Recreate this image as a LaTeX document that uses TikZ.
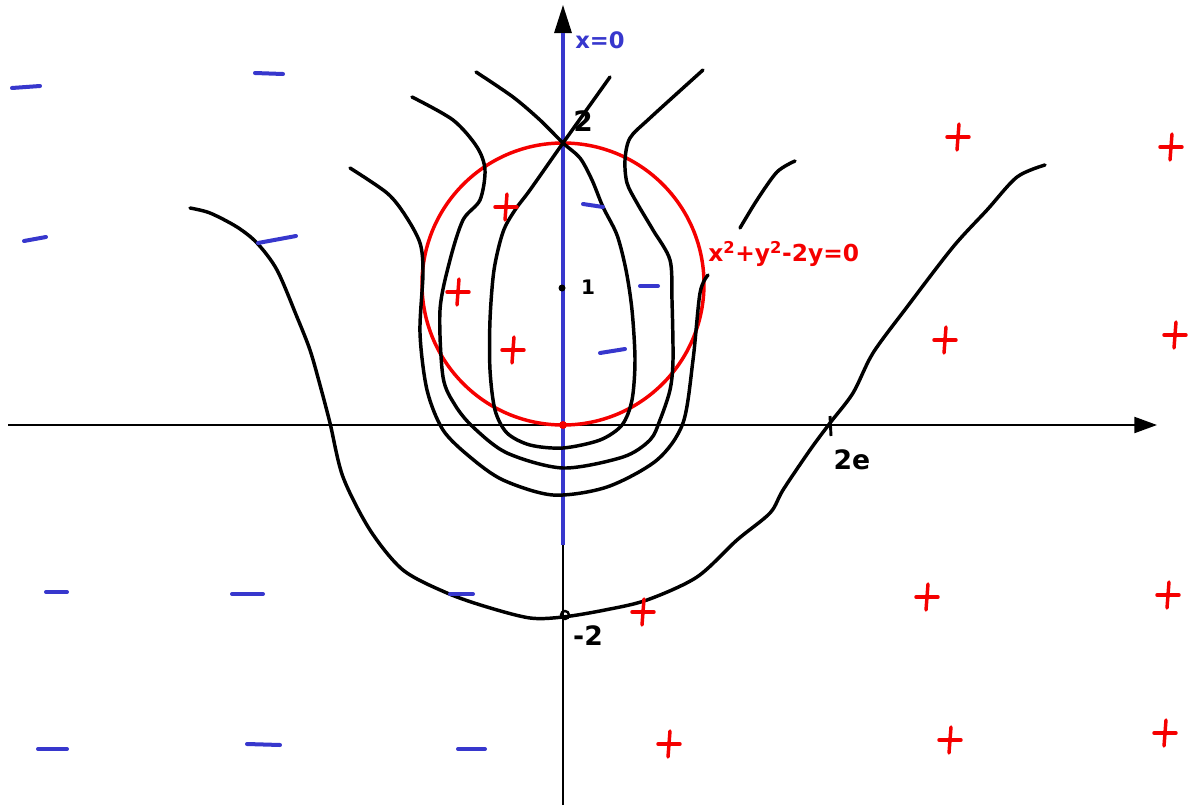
\documentclass[tikz,border=0pt]{standalone}
\usepackage{fontspec}
\setmainfont{DejaVu Sans}
\usetikzlibrary{arrows.meta}
\definecolor{penblue}{RGB}{55,55,205}
\definecolor{penred}{RGB}{245,0,0}
\begin{document}
\begin{tikzpicture}[x=0.75pt,y=-0.75pt,
  curve/.style={line width=2.6pt,line cap=round,line join=round},
  axisline/.style={line width=1.6pt},
  penminus/.style={penblue,line width=3pt,line cap=round},
  penplus/.style={penred,line width=2.6pt,line cap=round},
  lbl/.style={inner sep=0pt,font=\fontsize{17}{17}\selectfont\bfseries},
  pluspic/.pic={\draw[penplus] (-11,0) -- (11,0); \draw[penplus] (1,-13) -- (-1,13);}]
\useasboundingbox (0,0) rectangle (1190,807);
% axes
\coordinate (xs) at (8,425);
\coordinate (xe) at (1157,425);
\coordinate (ys) at (563,805);
\coordinate (ye) at (563,5);
\coordinate (bs) at (563,545);
\coordinate (be) at (563,33);
\draw[axisline,-{Triangle[length=17pt,width=12pt]}] (xs) -- (xe);
\draw[axisline,-{Triangle[length=21pt,width=13pt]}] (ys) -- (ye);
\draw[penblue,line width=2.4pt] (bs) -- (be);
% circle
\coordinate (cc) at (563,284);
\draw[penred,line width=2.6pt] (cc) circle[radius=141];
% curves
\draw[curve] plot[smooth,tension=0.5] coordinates {(476,72) (513,97) (540,120) (563,143) (580,158) (592,180) (603,207) (617,235) (626,270) (632,310) (635,360) (632,400) (622,425) (600,440) (563,448) (530,445) (507,433) (495,410) (490,370) (490,320) (494,270) (503,232) (515,210) (530,190) (563,143) (610,77)};
\draw[curve] plot[smooth,tension=0.5] coordinates {(412,97) (453,120) (477,147) (485,170) (480,200) (463,220) (450,260) (440,310) (443,377) (455,405) (473,427) (507,453) (563,468) (623,457) (650,440) (660,420) (670,390) (673,360) (672,300) (670,260) (653,230) (637,203) (627,183) (625,160) (630,138) (650,118) (703,70)};
\draw[curve] plot[smooth,tension=0.5] coordinates {(350,168) (387,193) (405,215) (420,243) (423,273) (420,333) (427,390) (443,430) (470,457) (503,480) (553,495) (607,487) (657,460) (683,423) (693,360) (700,293) (708,275)};
\draw[curve] plot[smooth,tension=0.5] coordinates {(740,228) (757,200) (777,172) (795,161)};
\draw[curve] plot[smooth,tension=0.5] coordinates {(190,208) (210,213) (237,227) (257,243) (277,270) (297,317) (310,350) (320,385) (330,423) (343,477) (370,530) (403,570) (447,593) (487,607) (530,618) (563,617) (605,610) (647,600) (697,577) (737,540) (770,513) (783,490) (810,450) (830,423) (853,393) (873,353) (907,307) (953,247) (987,210) (1017,177) (1045,165)};
% marks on axes
\fill (562,288) circle[radius=3.5];
\draw[line width=1.8pt] (565,615) circle[radius=4];
\fill[penred] (563,425) circle[radius=4];
\draw[line width=2.2pt] (830,416) -- (831,436);
% labels
\node[lbl,penblue] (lx0) at (600,40) {x=0};
\node[lbl,font=\fontsize{21}{21}\selectfont\bfseries] (l2) at (583,121) {2};
\node[lbl,font=\fontsize{15}{15}\selectfont\bfseries] (l1) at (588,287) {1};
\node[lbl,font=\fontsize{20}{20}\selectfont\bfseries] (l2e) at (852,460) {2e};
\node[lbl,font=\fontsize{20}{20}\selectfont\bfseries] (lm2) at (588,636) {-2};
\node[lbl,penred,anchor=west,font=\fontsize{17.5}{17.5}\selectfont\bfseries] (lcirc) at (708,254) {x\textsuperscript{2}+y\textsuperscript{2}-2y=0};
% minus signs
\draw[penminus] (12,88) -- (40,86);
\draw[penminus] (255,73) -- (283,74);
\draw[penminus] (24,241) -- (46,237);
\draw[penminus] (258,243) -- (296,236);
\draw[penminus] (583,204) -- (603,207);
\draw[penminus] (640,286) -- (658,286);
\draw[penminus] (600,353) -- (625,349);
\draw[penminus] (46,592) -- (67,592);
\draw[penminus] (232,594) -- (263,594);
\draw[penminus] (450,594) -- (473,594);
\draw[penminus] (38,749) -- (67,749);
\draw[penminus] (247,744) -- (280,745);
\draw[penminus] (458,749) -- (485,749);
% plus signs
\pic at (506,207) {pluspic};
\pic at (458,292) {pluspic};
\pic at (513,350) {pluspic};
\pic at (958,137) {pluspic};
\pic at (1171,147) {pluspic};
\pic at (945,340) {pluspic};
\pic at (1175,335) {pluspic};
\pic at (643,612) {pluspic};
\pic at (927,597) {pluspic};
\pic at (1168,595) {pluspic};
\pic at (669,744) {pluspic};
\pic at (950,740) {pluspic};
\pic at (1165,733) {pluspic};
\end{tikzpicture}
\end{document}
